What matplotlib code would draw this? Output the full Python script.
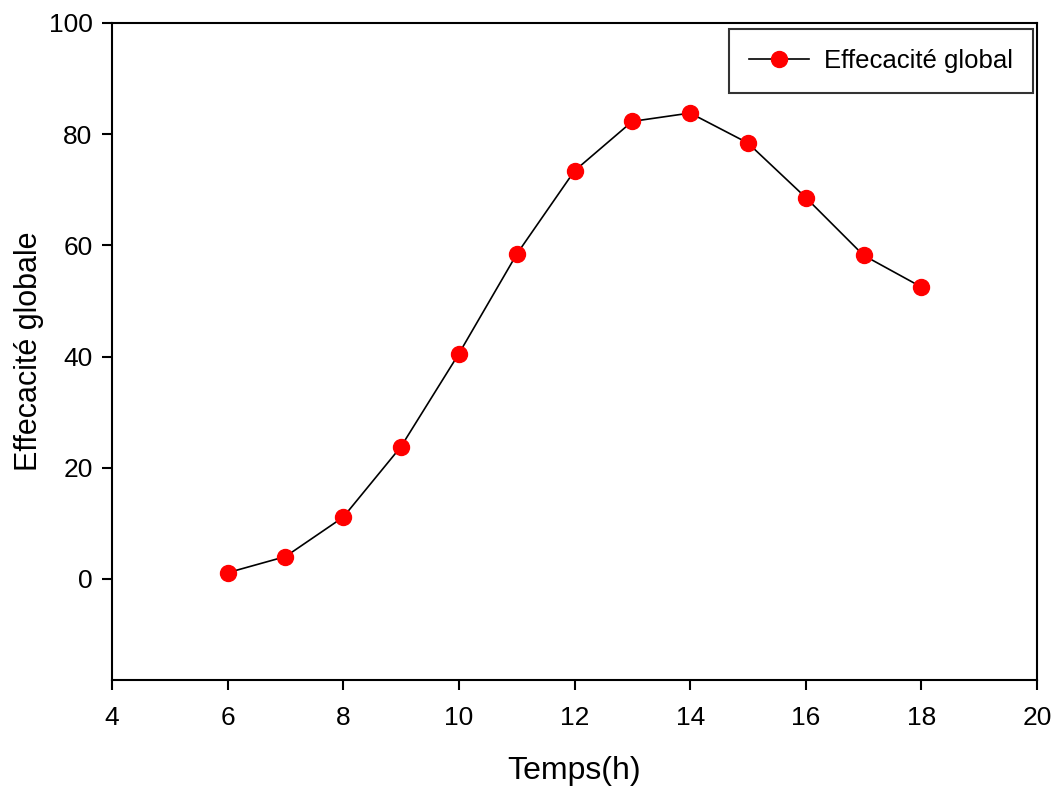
import matplotlib
matplotlib.use("Agg")
import matplotlib.pyplot as plt

hours = [6, 7, 8, 9, 10, 11, 12, 13, 14, 15, 16, 17, 18]
efficacite = [1.1, 4.0, 11.1, 23.8, 40.5, 58.4, 73.4, 82.3, 83.8, 78.4, 68.6, 58.2, 52.5]
xticks = [4, 6, 8, 10, 12, 14, 16, 18, 20]
yticks = [0, 20, 40, 60, 80, 100]

plt.rcParams['font.family'] = ['Liberation Sans', 'DejaVu Sans']

fig = plt.figure(figsize=(10.59, 7.9), dpi=100)
ax = fig.add_axes([112/1059, 1-680/790, (1037-112)/1059, (680-23)/790])

ax.plot(hours, efficacite, color='black', linewidth=1.2, marker='o',
        markersize=11.5, markerfacecolor='red', markeredgecolor='red',
        label='Effecacité global')

ax.set_xlim(4, 20)
ax.set_ylim(-18.2, 100)
ax.set_xticks(xticks)
ax.set_yticks(yticks)
ax.tick_params(direction='out', length=7, width=1.5, labelsize=19)
ax.tick_params(axis='x', pad=12)
ax.tick_params(axis='y', pad=7)
for s in ax.spines.values():
    s.set_linewidth(1.5)

ax.set_xlabel('Temps(h)', fontsize=23)
ax.xaxis.set_label_coords(0.5, -(771 - 680) / 657, transform=ax.transAxes)
ax.xaxis.label.set_va('center')
ax.set_ylabel('Effecacité globale', fontsize=22)
ax.yaxis.set_label_coords((29 - 112) / 925, 0.5, transform=ax.transAxes)
ax.yaxis.label.set_va('center')

leg = ax.legend(loc='upper right', fontsize=18.5, frameon=True, fancybox=False,
                edgecolor='black', borderpad=0.78, handlelength=2.3,
                handletextpad=0.6, borderaxespad=0,
                bbox_to_anchor=((1033-112)/925, (680-29)/657))
leg.get_frame().set_linewidth(1.5)

fig.savefig('out.png', dpi=100)
